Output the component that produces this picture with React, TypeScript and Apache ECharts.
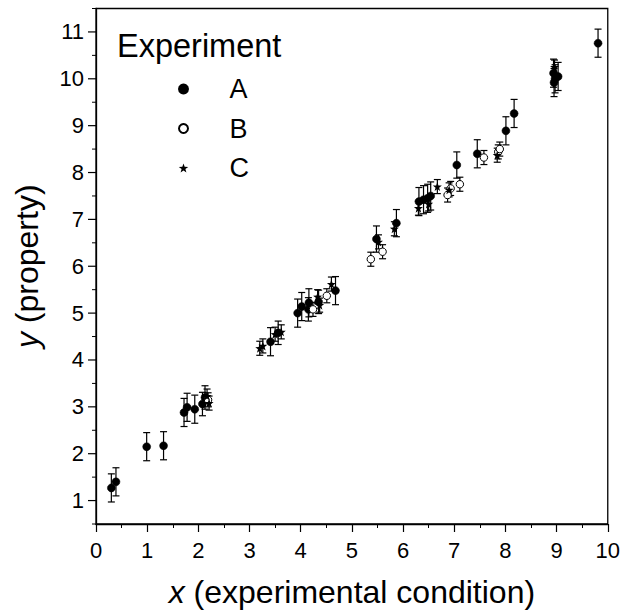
import React, { useEffect, useRef } from "react";
import * as echarts from "echarts";

const seriesNames = ["A", "B", "C"];

const aX = [0.30, 0.39, 0.99, 1.32, 1.72, 1.78, 1.93, 2.08, 2.13, 3.41, 3.56, 3.94, 4.02, 4.16, 4.15, 4.35, 4.68, 5.48, 5.87, 6.31, 6.40, 6.48, 6.54, 7.05, 7.45, 8.01, 8.17, 8.94, 8.97, 9.03, 8.95, 9.81];
const aY = [1.27, 1.40, 2.15, 2.17, 2.88, 2.99, 2.95, 3.06, 3.20, 4.39, 4.58, 5.00, 5.14, 5.22, 5.08, 5.24, 5.48, 6.58, 6.92, 7.38, 7.42, 7.45, 7.50, 8.16, 8.40, 8.89, 9.26, 10.12, 10.00, 10.05, 9.92, 10.76];
const aErr = [0.30, 0.30, 0.30, 0.30, 0.30, 0.30, 0.30, 0.25, 0.25, 0.30, 0.25, 0.30, 0.30, 0.30, 0.25, 0.25, 0.30, 0.28, 0.29, 0.30, 0.30, 0.30, 0.30, 0.28, 0.30, 0.30, 0.30, 0.30, 0.30, 0.30, 0.30, 0.30];

const bX = [2.19, 4.24, 4.51, 5.37, 5.60, 6.87, 6.93, 7.11, 7.58, 7.86, 7.89];
const bY = [3.15, 5.08, 5.37, 6.15, 6.31, 7.52, 7.66, 7.75, 8.32, 8.44, 8.50];
const bErr = [0.15, 0.15, 0.15, 0.15, 0.15, 0.15, 0.15, 0.15, 0.15, 0.15, 0.15];

const cX = [2.21, 2.17, 3.20, 3.26, 3.50, 3.62, 4.33, 4.37, 4.60, 5.52, 5.83, 6.30, 6.50, 6.67, 6.90, 7.84, 8.96];
const cY = [3.08, 3.23, 4.25, 4.30, 4.55, 4.60, 5.35, 5.17, 5.62, 6.52, 6.80, 7.24, 7.33, 7.70, 7.63, 8.37, 10.25];
const cErr = [0.15, 0.15, 0.15, 0.15, 0.15, 0.15, 0.15, 0.15, 0.15, 0.15, 0.15, 0.15, 0.15, 0.15, 0.15, 0.15, 0.15];

const xTicks = [0, 1, 2, 3, 4, 5, 6, 7, 8, 9, 10];
const yTicks = [1, 2, 3, 4, 5, 6, 7, 8, 9, 10, 11];

const FONT = "'Liberation Sans', Arial, sans-serif";
const STAR =
  "path://M0,-10 L2.35,-3.24 L9.51,-3.09 L3.8,1.24 L5.88,8.09 L0,4 L-5.88,8.09 L-3.8,1.24 L-9.51,-3.09 L-2.35,-3.24 Z";

function pts(xs: number[], ys: number[]) {
  return xs.map((x, i) => [x, ys[i]]);
}
function errs(xs: number[], ys: number[], es: number[]) {
  return xs.map((x, i) => [x, ys[i] - es[i], ys[i] + es[i]]);
}

function errorSeries(name: string, data: number[][]) {
  return {
    type: "custom",
    name,
    data,
    z: 1,
    renderItem: (params: any, api: any) => {
      const x = api.value(0);
      const lo = api.coord([x, api.value(1)]);
      const hi = api.coord([x, api.value(2)]);
      const hw = 3.5;
      const st = { stroke: "#000", lineWidth: 1.2 };
      return {
        type: "group",
        children: [
          { type: "line", shape: { x1: lo[0], y1: lo[1], x2: hi[0], y2: hi[1] }, style: st },
          { type: "line", shape: { x1: lo[0] - hw, y1: lo[1], x2: lo[0] + hw, y2: lo[1] }, style: st },
          { type: "line", shape: { x1: hi[0] - hw, y1: hi[1], x2: hi[0] + hw, y2: hi[1] }, style: st },
        ],
      };
    },
  };
}

export default function App() {
  const ref = useRef<HTMLDivElement>(null);
  useEffect(() => {
    if (!ref.current) return;
    const chart = echarts.init(ref.current, null, { renderer: "svg" });
    chart.setOption({
      animation: false,
      backgroundColor: "#fff",
      grid: {
        left: 96,
        right: 14,
        top: 8.5,
        bottom: 89,
        show: true,
        borderColor: "#000",
        borderWidth: 1.3,
      },
      graphic: [
        {
          type: "text",
          style: {
            x: 117,
            y: 46,
            text: "Experiment",
            font: `32.5px ${FONT}`,
            fill: "#000",
            verticalAlign: "middle",
          },
        },
      ],
      legend: {
        data: seriesNames,
        orient: "vertical",
        left: 173,
        top: 69,
        itemWidth: 82,
        itemHeight: 9,
        itemGap: 9.5,
        textStyle: { fontFamily: FONT, fontSize: 27, color: "#000", lineHeight: 30 },
        selectedMode: false,
      },
      xAxis: {
        type: "value",
        min: 0,
        max: 10,
        interval: 1,
        name: "{i|x} (experimental condition)",
        nameLocation: "middle",
        nameGap: 52,
        nameTextStyle: {
          fontFamily: FONT,
          fontSize: 32,
          color: "#000",
          rich: { i: { fontStyle: "italic", fontFamily: FONT, fontSize: 32, color: "#000" } },
        },
        axisLine: { show: true, lineStyle: { color: "#000", width: 1.3 } },
        axisTick: { show: true, inside: false, length: 8, lineStyle: { color: "#000", width: 1.2 } },
        minorTick: { show: true, splitNumber: 2, length: 4, lineStyle: { color: "#000", width: 1 } },
        splitLine: { show: false },
        axisLabel: {
          fontFamily: FONT,
          fontSize: 22,
          color: "#000",
          margin: 15,
          formatter: (v: number) => (xTicks.includes(v) ? String(v) : ""),
        },
      },
      yAxis: {
        type: "value",
        min: 0.5,
        max: 11.5,
        interval: 0.5,
        name: "{i|y} (property)",
        nameLocation: "middle",
        nameGap: 53,
        nameTextStyle: {
          fontFamily: FONT,
          fontSize: 32,
          color: "#000",
          rich: { i: { fontStyle: "italic", fontFamily: FONT, fontSize: 32, color: "#000" } },
        },
        axisLine: { show: true, lineStyle: { color: "#000", width: 1.3 } },
        axisTick: { show: false },
        splitLine: { show: false },
        axisLabel: {
          fontFamily: FONT,
          fontSize: 22,
          color: "#000",
          margin: 12,
          formatter: (v: number) => (yTicks.includes(v) ? String(v) : ""),
        },
      },
      series: [
        errorSeries("errA", errs(aX, aY, aErr)),
        errorSeries("errB", errs(bX, bY, bErr)),
        errorSeries("errC", errs(cX, cY, cErr)),
        {
          type: "scatter",
          name: "A",
          data: pts(aX, aY),
          symbol: "circle",
          symbolSize: 8,
          itemStyle: { color: "#000", borderColor: "#000", borderWidth: 0.5, opacity: 1 },
          z: 3,
        },
        {
          type: "scatter",
          name: "B",
          data: pts(bX, bY),
          symbol: "circle",
          symbolSize: 7.5,
          itemStyle: { color: "#fff", borderColor: "#000", borderWidth: 1, opacity: 1 },
          z: 3,
        },
        {
          type: "scatter",
          name: "C",
          data: pts(cX, cY),
          symbol: STAR,
          symbolSize: 9,
          itemStyle: { color: "#000", borderColor: "#000", borderWidth: 0, opacity: 1 },
          z: 3,
        },
        {
          type: "custom",
          name: "yticks",
          data: [[0]],
          silent: true,
          renderItem: (params: any, api: any) => {
            const children: any[] = [];
            for (let v = 0.5; v <= 11.5001; v += 0.5) {
              const p = api.coord([0, v]);
              const major = Math.abs(v - Math.round(v)) < 1e-6;
              children.push({
                type: "line",
                shape: { x1: p[0] - (major ? 8 : 4), y1: p[1], x2: p[0], y2: p[1] },
                style: { stroke: "#000", lineWidth: major ? 1.2 : 1 },
              });
            }
            return { type: "group", children };
          },
        },
      ],
    });
    return () => chart.dispose();
  }, []);
  return (
    <div
      ref={ref}
      style={{ position: "absolute", left: 0, top: 0, width: 623, height: 613 }}
    />
  );
}
